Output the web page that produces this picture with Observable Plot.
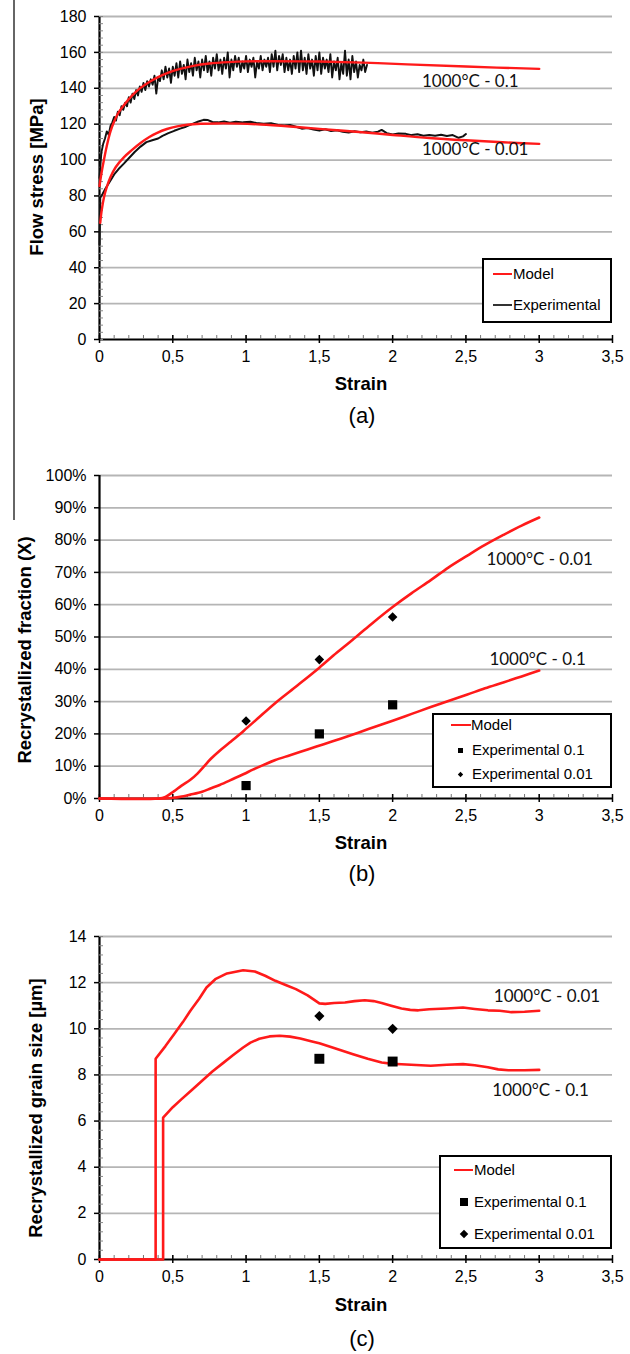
<!DOCTYPE html>
<html><head><meta charset="utf-8">
<script src="https://cdn.jsdelivr.net/npm/d3@7"></script>
<script src="https://cdn.jsdelivr.net/npm/@observablehq/plot@0.6"></script>
<style>
body{margin:0;background:#fff;}
#fig{position:relative;width:630px;height:1354px;overflow:hidden;background:#fff;font-family:"Liberation Sans",Arial,sans-serif;color:#000;}
.panel{position:absolute;left:0;}
.ctr{position:absolute;transform:translate(-50%,-50%);white-space:nowrap;}
.ytitle{position:absolute;transform:translate(-50%,-50%) rotate(-90deg);white-space:nowrap;font-weight:bold;font-size:18.5px;}
.xtitle{font-weight:bold;font-size:18.5px;}
.cap{font-size:22px;}
.legend{position:absolute;border:2px solid #000;background:#fff;box-sizing:border-box;}
.ltxt{position:absolute;font-size:15px;line-height:18px;white-space:nowrap;transform:translateY(-50%);}
.lsym{position:absolute;}
</style></head>
<body>
<div id="fig"></div>
<script>
// ---------- shared axis data ----------
const xTickValues = [0, 0.5, 1, 1.5, 2, 2.5, 3, 3.5];
const xTickLabels = ["0", "0,5", "1", "1,5", "2", "2,5", "3", "3,5"];
const xMinorTicks = d3.range(0, 3.5001, 0.1);

// ---------- panel (a) flow stress ----------
const aYTicks = [0, 20, 40, 60, 80, 100, 120, 140, 160, 180];
const aModel01 = [[0,85.5],[0.01,91],[0.03,100],[0.05,108],[0.075,116],[0.1,121.5],[0.13,126.5],[0.17,131],[0.22,135.8],[0.28,140.2],[0.34,143.5],[0.4,146.2],[0.47,148.7],[0.55,150.8],[0.64,152.5],[0.75,153.8],[0.88,154.6],[1.0,155],[1.2,155.1],[1.5,154.9],[1.8,154.3],[2.1,153.3],[2.5,152.1],[3.0,150.8]];
const aModel001 = [[0.005,65],[0.015,72],[0.03,79],[0.05,85],[0.075,90.5],[0.11,96],[0.166,101.5],[0.22,105.5],[0.28,109.5],[0.34,112.8],[0.39,115],[0.46,117.3],[0.53,118.8],[0.6,119.7],[0.69,120.2],[0.8,120.4],[0.96,120.3],[1.1,119.8],[1.3,118.7],[1.5,117.4],[1.75,115.8],[2.0,114],[2.25,112.3],[2.5,111],[2.75,109.9],[3.0,109]];
const aExp001 = [[0,53],[0.005,79],[0.02,81],[0.04,84],[0.075,88.6],[0.1,92],[0.13,95],[0.166,98],[0.2,101],[0.24,104.5],[0.28,107.5],[0.32,110],[0.36,111],[0.4,112],[0.43,113.5],[0.47,115],[0.51,116.3],[0.55,117.5],[0.59,118.6],[0.63,120],[0.675,121.5],[0.71,122.4],[0.74,122.3],[0.77,121.2],[0.81,121],[0.85,121.5],[0.89,120.8],[0.93,121.4],[0.98,121],[1.03,121.3],[1.07,120.6],[1.12,120.2],[1.17,120.5],[1.22,119.5],[1.26,119.2],[1.3,119.5],[1.34,118.6],[1.38,117.5],[1.42,117.9],[1.46,117],[1.5,116.4],[1.54,117.2],[1.58,116.2],[1.62,116.6],[1.66,115.8],[1.7,115.4],[1.74,116.1],[1.78,115.5],[1.82,115.9],[1.86,115.2],[1.9,115.8],[1.925,116.8],[1.96,115],[2.0,114.2],[2.04,114.8],[2.09,114.6],[2.13,113.9],[2.17,114.4],[2.21,113.5],[2.25,114],[2.29,113.6],[2.33,114.1],[2.37,113.4],[2.41,113.9],[2.45,112.4],[2.48,113.2],[2.5,114.5]];
// experimental 0.1: sampled every 0.0125 strain from 0
const aExp01Step = 0.0125;
const aExp01Values = [90,104,109,112,116,114,119,121,124,122,127,125,130,128,132,130,135,132,137,134,139,136,141,138,143,139,144,141,145,142,147,137,146,144,150,145,152,146,151,143,152,147,154,146,155,148,153,145,156,149,154,147,157,150,155,146,156,150,158,149,155,147,157,151,159,150,156,148,157,151,160,146,156,150,158,152,157,149,155,151,158,149,156,152,157,146,155,151,158,150,156,152,157,149,159,152,161,150,158,153,159,149,157,150,156,148,158,151,160,149,161,150,157,148,159,151,156,147,158,150,160,148,157,151,156,149,159,146,155,150,157,145,154,148,161,147,156,145,158,149,155,146,153,150,156,149,153];
const aLabelText = ["1000°C - 0.1", "1000°C - 0.01"];
const aLabelX = [2.2, 2.2];
const aLabelY = [143.5, 106];

// ---------- panel (b) recrystallized fraction ----------
const bYTicks = [0, 0.1, 0.2, 0.3, 0.4, 0.5, 0.6, 0.7, 0.8, 0.9, 1.0];
const bModel001 = [[0,0],[0.4,0],[0.45,0.005],[0.507,0.022],[0.56,0.04],[0.62,0.058],[0.67,0.078],[0.71,0.098],[0.76,0.123],[0.82,0.148],[0.89,0.174],[0.985,0.21],[1.075,0.246],[1.2,0.296],[1.35,0.35],[1.5,0.405],[1.62,0.452],[1.75,0.5],[1.87,0.546],[2.0,0.593],[2.13,0.636],[2.26,0.676],[2.38,0.715],[2.51,0.752],[2.63,0.785],[2.76,0.817],[2.88,0.845],[3.0,0.87]];
const bModel01 = [[0,0],[0.45,0],[0.5,0.002],[0.55,0.005],[0.62,0.012],[0.7,0.021],[0.757,0.031],[0.82,0.042],[0.89,0.056],[0.985,0.076],[1.05,0.09],[1.12,0.104],[1.2,0.119],[1.3,0.134],[1.42,0.152],[1.53,0.168],[1.65,0.186],[1.76,0.203],[1.88,0.222],[2.0,0.241],[2.13,0.262],[2.26,0.283],[2.38,0.302],[2.51,0.322],[2.63,0.341],[2.76,0.36],[2.88,0.378],[3.0,0.396]];
const bExp01 = [[1,0.04],[1.5,0.20],[2,0.29]];
const bExp001 = [[1,0.24],[1.5,0.43],[2,0.562]];
const bLabelText = ["1000°C - 0.01", "1000°C - 0.1"];
const bLabelX = [2.64, 2.66];
const bLabelY = [0.74, 0.43];

// ---------- panel (c) recrystallized grain size ----------
const cYTicks = [0, 2, 4, 6, 8, 10, 12, 14];
const cModel001 = [[0,0],[0.383,0],[0.383,8.7],[0.45,9.25],[0.51,9.77],[0.57,10.3],[0.62,10.78],[0.68,11.3],[0.73,11.79],[0.79,12.15],[0.87,12.4],[0.98,12.54],[1.06,12.48],[1.13,12.3],[1.2,12.08],[1.27,11.9],[1.34,11.72],[1.42,11.45],[1.5,11.1],[1.54,11.08],[1.6,11.12],[1.675,11.14],[1.74,11.2],[1.81,11.24],[1.87,11.2],[1.925,11.12],[1.99,11.0],[2.06,10.88],[2.12,10.82],[2.175,10.8],[2.25,10.85],[2.37,10.88],[2.48,10.92],[2.56,10.86],[2.65,10.8],[2.73,10.78],[2.81,10.72],[2.9,10.74],[3.0,10.78]];
const cModel01 = [[0,0],[0.434,0],[0.434,6.15],[0.5,6.6],[0.56,6.95],[0.63,7.35],[0.70,7.75],[0.77,8.15],[0.84,8.5],[0.91,8.85],[0.98,9.19],[1.03,9.4],[1.09,9.57],[1.16,9.67],[1.23,9.7],[1.3,9.66],[1.37,9.58],[1.45,9.45],[1.5,9.37],[1.6,9.17],[1.73,8.9],[1.83,8.7],[1.925,8.54],[2.0,8.48],[2.06,8.46],[2.16,8.43],[2.26,8.4],[2.37,8.44],[2.48,8.47],[2.56,8.42],[2.65,8.33],[2.72,8.24],[2.79,8.2],[2.9,8.2],[3.0,8.22]];
const cExp01 = [[1.5,8.7],[2,8.58]];
const cExp001 = [[1.5,10.55],[2,10.0]];
const cLabelText = ["1000°C - 0.01", "1000°C - 0.1"];
const cLabelX = [2.69, 2.68];
const cLabelY = [11.39, 7.32];

// ---------- helpers ----------
const RED = "#ff1a1a";
const fig = document.getElementById("fig");
const xFmt = d => xTickLabels[xTickValues.findIndex(v => Math.abs(v - d) < 1e-9)];
const asLabels = (t, x, y) => t.map((s, i) => ({text: s, x: x[i], y: y[i]}));

function panel({top, height, yDomain, yTicks, yMinor, yFmt, marks}) {
  const chart = Plot.plot({
    width: 630, height,
    marginLeft: 99, marginRight: 18, marginTop: 16, marginBottom: height - 16 - 323,
    x: {domain: [0, 3.5]},
    y: {domain: yDomain},
    style: {fontFamily: "'Liberation Sans', Arial, sans-serif", fontSize: "16px", color: "#000", background: "transparent", overflow: "visible"},
    marks: [
      Plot.gridY(yTicks.slice(1), {stroke: "#b5b5b5", strokeOpacity: 1, strokeWidth: 1.8}),
      Plot.ruleX([0], {stroke: "#000", strokeWidth: 2.2}),
      Plot.ruleY([yDomain[0]], {stroke: "#000", strokeWidth: 2.2}),
      Plot.axisY(yTicks, {tickSize: 5, tickPadding: 8, tickFormat: yFmt, label: null, fontSize: 16, strokeWidth: 1.5}),
      ...(yMinor ? [Plot.axisY(yMinor, {tickSize: 4, dx: 4, tickFormat: () => "", label: null, stroke: "#888"})] : []),
      Plot.axisX(xTickValues, {tickSize: 0, tickPadding: 11, tickFormat: xFmt, label: null, fontSize: 16}),
      Plot.axisX(xMinorTicks, {tickSize: 4, dy: -4, tickFormat: () => "", label: null, stroke: "#777"}),
      Plot.axisX(xTickValues, {tickSize: 8, dy: -4, tickFormat: () => "", label: null, strokeWidth: 1.5}),
      ...marks
    ]
  });
  chart.classList.add("panel");
  chart.style.top = top + "px";
  fig.appendChild(chart);
}

const lbl = (data) => Plot.text(data, {x: "x", y: "y", text: "text", textAnchor: "start", lineAnchor: "middle", fontFamily: "Lato, 'Open Sans', sans-serif", fontSize: 17, fill: "#111"});

// panel a
panel({
  top: 0, height: 450, yDomain: [0, 180], yTicks: aYTicks, yMinor: d3.range(0, 180.1, 4), yFmt: d => String(d),
  marks: [
    Plot.line(aExp001, {x: d => d[0], y: d => d[1], stroke: "#111", strokeWidth: 2}),
    Plot.line(aExp01Values, {x: (d, i) => i * aExp01Step, y: d => d, stroke: "#111", strokeWidth: 1.9}),
    Plot.line(aModel001, {x: d => d[0], y: d => d[1], stroke: RED, strokeWidth: 2.4, curve: "catmull-rom"}),
    Plot.line(aModel01, {x: d => d[0], y: d => d[1], stroke: RED, strokeWidth: 2.4, curve: "catmull-rom"}),
    lbl(asLabels(aLabelText, aLabelX, aLabelY))
  ]
});

// panel b
panel({
  top: 459, height: 450, yDomain: [0, 1], yTicks: bYTicks, yMinor: null, yFmt: d => Math.round(d * 100) + "%",
  marks: [
    Plot.line(bModel001, {x: d => d[0], y: d => d[1], stroke: RED, strokeWidth: 2.6, curve: "catmull-rom"}),
    Plot.line(bModel01, {x: d => d[0], y: d => d[1], stroke: RED, strokeWidth: 2.6, curve: "catmull-rom"}),
    Plot.dot(bExp01, {x: d => d[0], y: d => d[1], symbol: "square", r: 5.2, fill: "#000", stroke: null}),
    Plot.dot(bExp001, {x: d => d[0], y: d => d[1], symbol: "diamond2", r: 4.3, fill: "#000", stroke: null}),
    lbl(asLabels(bLabelText, bLabelX, bLabelY))
  ]
});

// panel c
panel({
  top: 920, height: 434, yDomain: [0, 14], yTicks: cYTicks, yMinor: d3.range(0, 14.01, 0.4), yFmt: d => String(d),
  marks: [
    Plot.line(cModel001, {x: d => d[0], y: d => d[1], stroke: RED, strokeWidth: 2.6}),
    Plot.line(cModel01, {x: d => d[0], y: d => d[1], stroke: RED, strokeWidth: 2.6}),
    Plot.dot(cExp01, {x: d => d[0], y: d => d[1], symbol: "square", r: 5.6, fill: "#000", stroke: null}),
    Plot.dot(cExp001, {x: d => d[0], y: d => d[1], symbol: "diamond2", r: 4.6, fill: "#000", stroke: null}),
    lbl(asLabels(cLabelText, cLabelX, cLabelY))
  ]
});

// ---------- HTML titles, captions, legends ----------
function div(cls, text, left, top, extra) {
  const d = document.createElement("div");
  d.className = cls; d.textContent = text;
  d.style.left = left + "px"; d.style.top = top + "px";
  if (extra) Object.assign(d.style, extra);
  fig.appendChild(d); return d;
}
// stray left border line of the source figure
div("", "", 13, 0, {position: "absolute", width: "1.5px", height: "520px", background: "#666"});

div("ytitle", "Flow stress [MPa]", 37, 177);
div("ytitle", "Recrystallized  fraction (X)", 25, 650);
div("ytitle", "Recrystallized  grain size [µm]", 36, 1108);
div("ctr xtitle", "Strain", 361, 384);
div("ctr xtitle", "Strain", 361, 843);
div("ctr xtitle", "Strain", 361, 1305);
div("ctr cap", "(a)", 362, 416);
div("ctr cap", "(b)", 362, 874);
div("ctr cap", "(c)", 362, 1339);

function legend(box, rows) {
  div("legend", "", box[0], box[1], {width: (box[2] - box[0]) + "px", height: (box[3] - box[1]) + "px"});
  for (const r of rows) {
    if (r.kind === "line") {
      div("lsym", "", r.x0, r.y - 1.25, {width: (r.x1 - r.x0) + "px", height: "2.5px", background: r.color});
    } else if (r.kind === "square") {
      div("lsym", "", r.cx - r.s / 2, r.y - r.s / 2, {width: r.s + "px", height: r.s + "px", background: "#000"});
    } else if (r.kind === "diamond") {
      div("lsym", "", r.cx - r.s / 2, r.y - r.s / 2, {width: r.s + "px", height: r.s + "px", background: "#000", transform: "rotate(45deg) scale(0.75)"});
    }
    div("ltxt", r.text, r.tx, r.y);
  }
}
legend([482, 258, 612, 323], [
  {kind: "line", color: RED, x0: 493, x1: 512, y: 274, text: "Model", tx: 513},
  {kind: "line", color: "#333", x0: 493, x1: 512, y: 305, text: "Experimental", tx: 513}
]);
legend([432, 713, 612, 788], [
  {kind: "line", color: RED, x0: 451, x1: 471, y: 725, text: "Model", tx: 471},
  {kind: "square", cx: 460, s: 5, y: 750, text: "Experimental 0.1", tx: 472},
  {kind: "diamond", cx: 460, s: 5, y: 774, text: "Experimental 0.01", tx: 472}
]);
legend([439, 1155, 612, 1249], [
  {kind: "line", color: RED, x0: 454, x1: 473, y: 1170, text: "Model", tx: 474},
  {kind: "square", cx: 464, s: 7.5, y: 1202, text: "Experimental 0.1", tx: 474},
  {kind: "diamond", cx: 464, s: 8, y: 1234, text: "Experimental 0.01", tx: 474}
]);
</script>
</body></html>
